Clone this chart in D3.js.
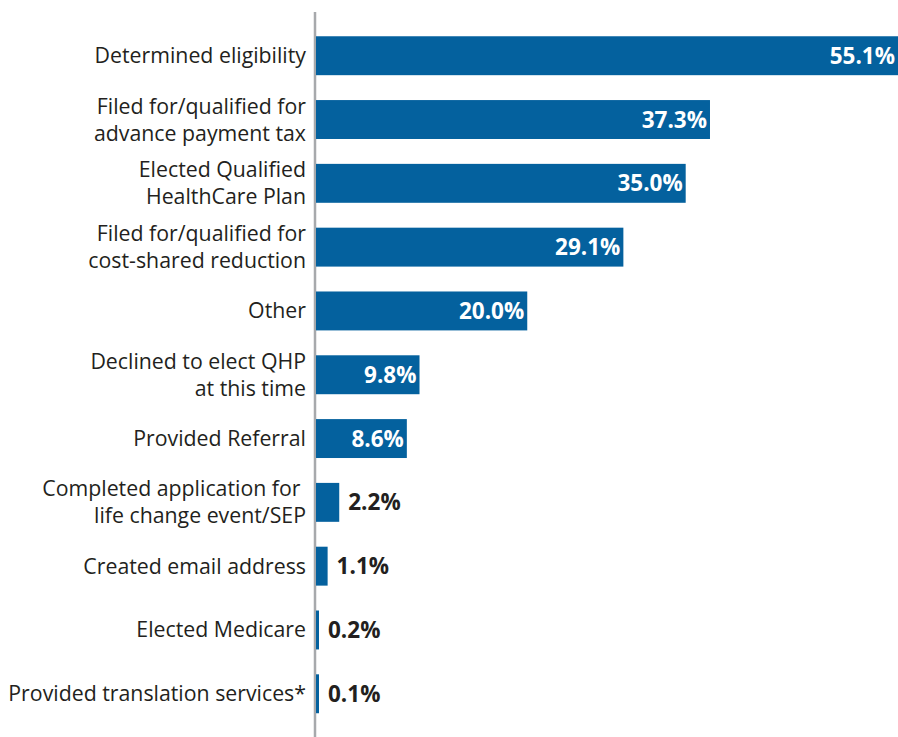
<!DOCTYPE html>
<meta charset="utf-8">
<script src="https://d3js.org/d3.v7.min.js"></script>
<style>
  body { margin: 0; background: #fff; }
  text { font-family: "Open Sans", "Noto Sans", sans-serif; }
</style>
<div id="chart"></div>
<script>
  // categories (each entry = lines of the label) and their values in %
  var categories = [
    ["Determined eligibility"],
    ["Filed for/qualified for", "advance payment tax"],
    ["Elected Qualified", "HealthCare Plan"],
    ["Filed for/qualified for", "cost-shared reduction"],
    ["Other"],
    ["Declined to elect QHP", "at this time"],
    ["Provided Referral"],
    ["Completed application for ", "life change event/SEP"],
    ["Created email address"],
    ["Elected Medicare"],
    ["Provided translation services*"]
  ];
  var values = [55.1, 37.3, 35.0, 29.1, 20.0, 9.8, 8.6, 2.2, 1.1, 0.2, 0.1];
  var labels = ["55.1%", "37.3%", "35.0%", "29.1%", "20.0%", "9.8%", "8.6%", "2.2%", "1.1%", "0.2%", "0.1%"];

  var data = categories.map(function(c, i) {
    return {id: i, lines: c, value: values[i], label: labels[i]};
  });

  var width = 898, height = 737;
  var axisX = 316;

  var svg = d3.select("#chart")
    .append("svg")
      .attr("width", width)
      .attr("height", height);

  var x = d3.scaleLinear()
    .domain([0, 55.1])
    .range([axisX, 898]);

  var y = d3.scaleBand()
    .domain(data.map(function(d) { return d.id; }))
    .range([23.5, 726])
    .paddingInner(0.39)
    .paddingOuter(0.2);

  // vertical axis line (bars sit on top of it)
  svg.append("line")
    .attr("x1", axisX - 1).attr("x2", axisX - 1)
    .attr("y1", 12).attr("y2", height)
    .attr("stroke", "#a7a9ac")
    .attr("stroke-width", 2.5);

  // bars (tiny values still get a visible sliver)
  svg.selectAll(".bar")
    .data(data)
    .enter()
    .append("rect")
      .attr("class", "bar")
      .attr("x", x(0))
      .attr("y", function(d) { return y(d.id); })
      .attr("width", function(d) { return Math.max(x(d.value) - x(0), 3); })
      .attr("height", y.bandwidth())
      .attr("fill", "#04619e");

  // category labels
  var cat = svg.selectAll(".cat")
    .data(data)
    .enter()
    .append("text")
      .attr("class", "cat")
      .attr("text-anchor", "end")
      .attr("fill", "#231f20")
      .style("font-size", "21.3px")
      .attr("transform", function(d) {
        return "translate(306," + (y(d.id) + y.bandwidth() / 2) + ")";
      });

  cat.selectAll("tspan")
    .data(function(d) {
      var n = d.lines.length;
      return d.lines.map(function(t, i) { return {t: t, off: (i - (n - 1) / 2) * 27}; });
    })
    .enter()
    .append("tspan")
      .attr("x", 0)
      .attr("y", function(d) { return d.off + 7.5; })
      .text(function(d) { return d.t; });

  // value labels
  svg.selectAll(".val")
    .data(data)
    .enter()
    .append("text")
      .attr("class", "val")
      .attr("x", function(d) { return d.value >= 5 ? x(d.value) - 3 : Math.max(x(d.value), x(0) + 3) + 9; })
      .attr("y", function(d) { return y(d.id) + y.bandwidth() / 2 + 8; })
      .attr("text-anchor", function(d) { return d.value >= 5 ? "end" : "start"; })
      .attr("fill", function(d) { return d.value >= 5 ? "#ffffff" : "#231f20"; })
      .style("font-size", "22.5px")
      .style("font-weight", "700")
      .text(function(d) { return d.label; });
</script>
